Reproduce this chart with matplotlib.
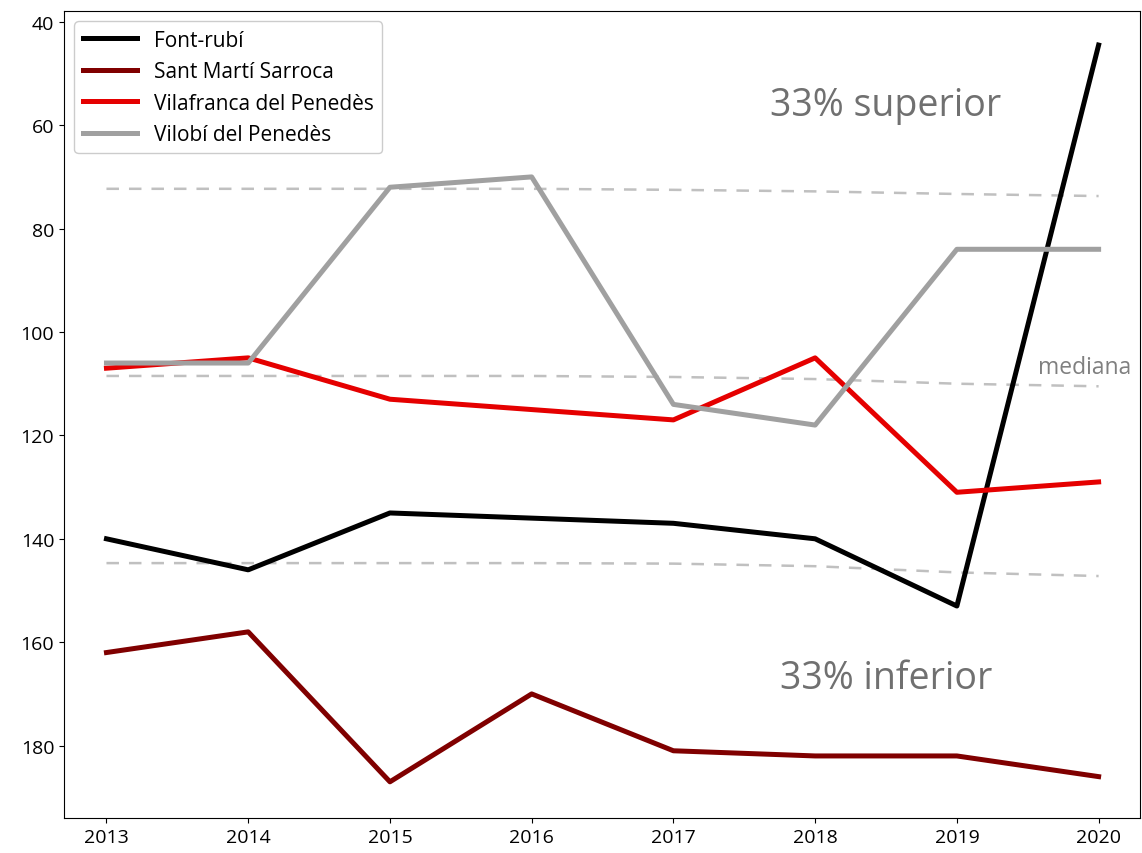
import matplotlib
matplotlib.use('Agg')
import matplotlib.pyplot as plt

plt.rcParams['font.family'] = ['Open Sans', 'DejaVu Sans']

anys = [2013, 2014, 2015, 2016, 2017, 2018, 2019, 2020]

font_rubi = [140, 146, 135, 136, 137, 140, 153, 44.5]
sant_marti = [162, 158, 187, 170, 181, 182, 182, 186]
vilafranca = [107, 105, 113, 115, 117, 105, 131, 129]
vilobi = [106, 106, 72, 70, 114, 118, 84, 84]

# terciles i mediana
terc_sup = [72.3, 72.3, 72.3, 72.3, 72.5, 72.8, 73.3, 73.7]
mediana = [108.5, 108.5, 108.5, 108.5, 108.7, 109.1, 110.0, 110.5]
terc_inf = [144.7, 144.7, 144.7, 144.7, 144.8, 145.3, 146.5, 147.2]

fig, ax = plt.subplots(figsize=(11.42, 8.54), dpi=100)
fig.subplots_adjust(left=0.056, right=0.998, top=0.986, bottom=0.041)

for serie in (terc_sup, mediana, terc_inf):
    ax.plot(anys, serie, color='#c0c0c0', lw=1.8, ls=(0, (5, 4)))

ax.plot(anys, font_rubi, color='black', lw=3.6, label='Font-rubí')
ax.plot(anys, sant_marti, color='#800000', lw=3.6, label='Sant Martí Sarroca')
ax.plot(anys, vilafranca, color='#e50000', lw=3.6, label='Vilafranca del Penedès')
ax.plot(anys, vilobi, color='#a0a0a0', lw=3.6, label='Vilobí del Penedès')

ax.text(2018.5, 56, '33% superior', fontsize=27, color='#707070', ha='center', va='center')
ax.text(2018.5, 167, '33% inferior', fontsize=27, color='#707070', ha='center', va='center')
ax.text(2019.9, 106.8, 'mediana', fontsize=16.5, color='#808080', ha='center', va='center')

ax.set_xlim(2012.7, 2020.29)
ax.set_ylim(194, 37.9)
ax.set_xticks(anys)
ax.set_yticks([40, 60, 80, 100, 120, 140, 160, 180])
ax.tick_params(labelsize=14)

ax.legend(loc='upper left', fontsize=15, handlelength=2.6, framealpha=1)

fig.savefig('out.png', dpi=100)
